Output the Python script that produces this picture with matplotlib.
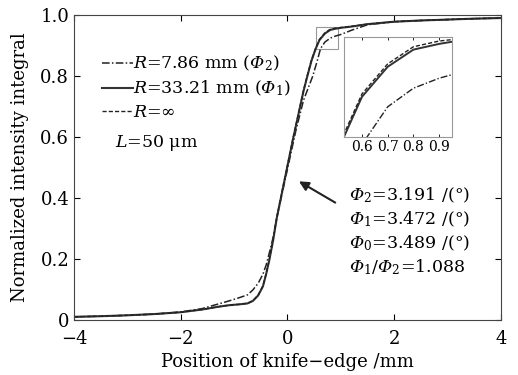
import matplotlib
matplotlib.use("Agg")
import matplotlib.pyplot as plt
from matplotlib.patches import Rectangle

plt.rcParams["font.family"] = ["DejaVu Serif"]
plt.rcParams["mathtext.fontset"] = "custom"
plt.rcParams["mathtext.rm"] = "DejaVu Serif"
plt.rcParams["mathtext.it"] = "DejaVu Serif:italic"
# italic capital Greek (mathit forces them upright)
plt.rcParams["mathtext.sf"] = "DejaVu Serif:italic"

# knife-edge position (mm) and normalized intensity integral
x_r1 = [-4, -3.5, -3, -2.5, -2, -1.6, -1.3, -1.1, -0.9, -0.75, -0.65, -0.55, -0.46, -0.4,
        -0.34, -0.27, -0.2, -0.1, 0, 0.1, 0.2, 0.3, 0.37, 0.45, 0.53, 0.6, 0.7, 0.8, 0.9,
        1.0, 1.2, 1.5, 2, 2.5, 3, 3.5, 4]
y_r1 = [0.010, 0.012, 0.015, 0.019, 0.025, 0.034, 0.043, 0.048, 0.051, 0.054, 0.062, 0.080,
        0.110, 0.150, 0.197, 0.260, 0.335, 0.420, 0.505, 0.590, 0.670, 0.750, 0.798, 0.850,
        0.890, 0.918, 0.939, 0.951, 0.955, 0.958, 0.962, 0.970, 0.978, 0.982, 0.985, 0.988, 0.990]
y_inf = [0.010, 0.012, 0.015, 0.019, 0.025, 0.034, 0.043, 0.048, 0.051, 0.054, 0.063, 0.081,
         0.112, 0.152, 0.199, 0.262, 0.337, 0.423, 0.508, 0.593, 0.673, 0.753, 0.801, 0.853,
         0.892, 0.920, 0.941, 0.953, 0.957, 0.959, 0.963, 0.970, 0.978, 0.982, 0.985, 0.988, 0.990]

x_r2 = [-4, -3.5, -3, -2.5, -2, -1.6, -1.3, -1.1, -0.9, -0.75, -0.65, -0.55, -0.46, -0.4,
        -0.34, -0.27, -0.2, -0.1, 0, 0.1, 0.16, 0.3, 0.47, 0.55, 0.62, 0.7, 0.8, 0.9,
        1.0, 1.2, 1.5, 2, 2.5, 3, 3.5, 4]
y_r2 = [0.010, 0.012, 0.015, 0.019, 0.026, 0.037, 0.052, 0.062, 0.073, 0.082, 0.098, 0.120,
        0.150, 0.180, 0.220, 0.270, 0.335, 0.415, 0.495, 0.575, 0.623, 0.720, 0.798, 0.845,
        0.890, 0.911, 0.924, 0.931, 0.936, 0.950, 0.968, 0.978, 0.982, 0.985, 0.988, 0.990]

labels = [r"$\mathit{R}$=7.86 mm ($\mathsf{\Phi}_2$)",
          r"$\mathit{R}$=33.21 mm ($\mathsf{\Phi}_1$)",
          r"$\mathit{R}$=∞"]
results = [r"$\mathsf{\Phi}_2$=3.191 /(°)",
           r"$\mathsf{\Phi}_1$=3.472 /(°)",
           r"$\mathsf{\Phi}_0$=3.489 /(°)",
           r"$\mathsf{\Phi}_1/\mathsf{\Phi}_2$=1.088"]
inset_xlim = (0.53, 0.95)
inset_ylim = (0.89, 0.96)

fig = plt.figure(figsize=(5.18, 3.75), dpi=100)
ax = fig.add_axes([0.143, 0.147, 0.824, 0.813])

dashdot = (0, (5, 1.5, 1, 1.5))
ax.plot(x_r2, y_r2, color="#222222", lw=1.1, ls=dashdot, label=labels[0])
ax.plot(x_r1, y_r1, color="#333333", lw=1.5, ls="-", label=labels[1])
ax.plot(x_r1, y_inf, color="#222222", lw=1.0, ls=(0, (3, 1.5)), label=labels[2])

ax.set_xlim(-4, 4)
ax.set_ylim(0, 1.0)
ax.set_xticks([-4, -2, 0, 2, 4])
ax.set_xticklabels(["\u22124", "\u22122", "0", "2", "4"])
ax.set_yticks([0, 0.2, 0.4, 0.6, 0.8, 1.0])
ax.set_yticklabels(["0", "0.2", "0.4", "0.6", "0.8", "1.0"])
ax.tick_params(direction="in", top=True, right=True, labelsize=13, length=4, width=0.8)
ax.tick_params(axis="x", pad=7)
for s in ax.spines.values():
    s.set_linewidth(0.8)
    s.set_color("#444444")
ax.set_xlabel("Position of knife\u2212edge /mm", fontsize=13, labelpad=4)
ax.set_ylabel("Normalized intensity integral", fontsize=13, labelpad=8)

ax.legend(loc="upper left", bbox_to_anchor=(0.05, 0.895), frameon=False, fontsize=12.5,
          handlelength=1.75, handletextpad=0.0, labelspacing=0.33, borderaxespad=0)
ax.text(0.095, 0.58, r"$\mathit{L}$=50 μm", transform=ax.transAxes, fontsize=12.5,
        va="center", ha="left")

ax.annotate("", xy=(0.17, 0.459), xytext=(0.94, 0.38),
            arrowprops=dict(arrowstyle="-|>", color="#222222", lw=1.5, mutation_scale=14))
ax.text(1.16, 0.44, "\n".join(results), fontsize=12.5, va="top", ha="left", linespacing=1.3)

ax.add_patch(Rectangle((inset_xlim[0], inset_ylim[0]), inset_xlim[1] - inset_xlim[0],
                       inset_ylim[1] - inset_ylim[0], fill=False, ec="#999999", lw=0.8))

axin = fig.add_axes([0.664, 0.635, 0.2085, 0.267])
axin.plot(x_r2, y_r2, color="#222222", lw=1.0, ls=dashdot)
axin.plot(x_r1, y_r1, color="#333333", lw=1.4, ls="-")
axin.plot(x_r1, y_inf, color="#222222", lw=1.0, ls=(0, (3, 1.5)))
axin.set_xlim(*inset_xlim)
axin.set_ylim(*inset_ylim)
axin.set_xticks([0.6, 0.7, 0.8, 0.9])
axin.set_xticklabels(["0.6", "0.7", "0.8", "0.9"])
axin.set_yticks([])
axin.tick_params(direction="in", top=True, labelsize=10, length=2, width=0.6, pad=2)
for s in axin.spines.values():
    s.set_linewidth(0.8)
    s.set_color("#999999")

fig.savefig("out.png", dpi=100)
